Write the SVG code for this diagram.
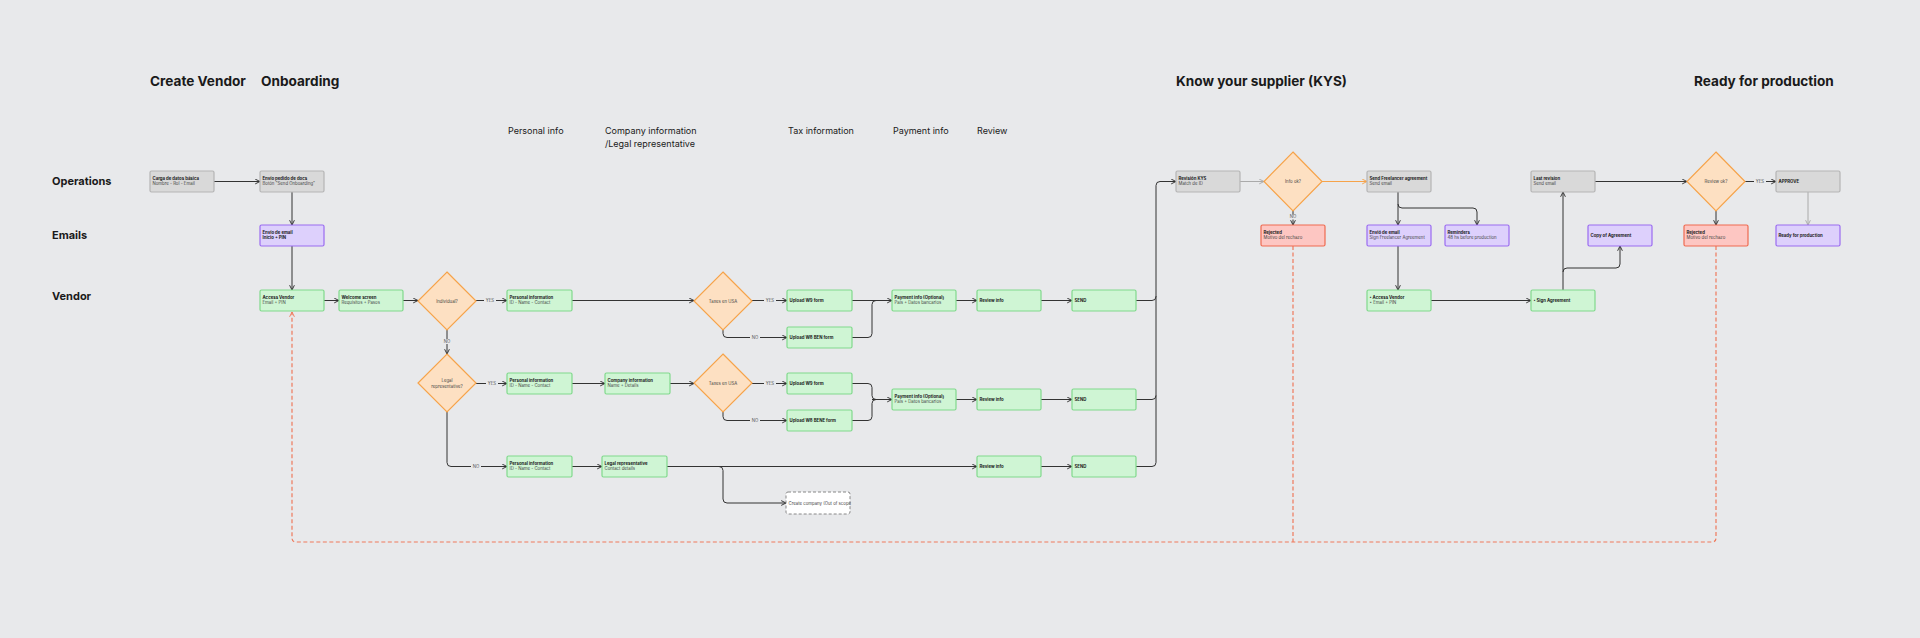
<svg xmlns="http://www.w3.org/2000/svg" width="1920" height="638" viewBox="0 0 1920 638">
<style>
text{font-family:Inter,"Liberation Sans",sans-serif;fill:#1a1a1a}
.h{font-size:13.6px;font-weight:700}
.lane{font-size:11px;font-weight:700}
.sec{font-size:9px}
.t{font-size:4.3px;font-weight:700}
.s{font-size:4.3px;fill:#444}
.c{font-size:4.3px;fill:#444;text-anchor:middle}
.lbl{font-size:4.3px;fill:#555;text-anchor:middle}
.gray{fill:#d9d9d9;stroke:#b5b5b5;stroke-width:1.2}
.pur{fill:#ddd0fc;stroke:#9a6cf0;stroke-width:1.2}
.grn{fill:#cff5d4;stroke:#80d98c;stroke-width:1.2}
.red{fill:#fdc6c2;stroke:#ef6b50;stroke-width:1.2}
.dia{fill:#fde0c2;stroke:#f6a34a;stroke-width:1.2}
.out{fill:#fff;stroke:#888;stroke-width:1;stroke-dasharray:3 2}
.k{fill:none;stroke:#333;stroke-width:1;marker-end:url(#a)}
.kn{fill:none;stroke:#333;stroke-width:1}
.g{fill:none;stroke:#aaa;stroke-width:1;marker-end:url(#ag)}
.o{fill:none;stroke:#f6a34a;stroke-width:1;marker-end:url(#ao)}
.d{fill:none;stroke:#ef7a5c;stroke-width:1.2;stroke-dasharray:4 2.5}
.dm{marker-end:url(#ad)}
</style>
<defs>
<marker id="a" viewBox="0 0 10 10" refX="9" refY="5" markerWidth="6" markerHeight="6" orient="auto" markerUnits="userSpaceOnUse"><path d="M1,1 L9,5 L1,9" fill="none" stroke="#333" stroke-width="1.6"/></marker>
<marker id="ag" viewBox="0 0 10 10" refX="9" refY="5" markerWidth="6" markerHeight="6" orient="auto" markerUnits="userSpaceOnUse"><path d="M1,1 L9,5 L1,9" fill="none" stroke="#aaa" stroke-width="1.6"/></marker>
<marker id="ao" viewBox="0 0 10 10" refX="9" refY="5" markerWidth="6" markerHeight="6" orient="auto" markerUnits="userSpaceOnUse"><path d="M1,1 L9,5 L1,9" fill="none" stroke="#f6a34a" stroke-width="1.6"/></marker>
<marker id="ad" viewBox="0 0 10 10" refX="9" refY="5" markerWidth="6" markerHeight="6" orient="auto" markerUnits="userSpaceOnUse"><path d="M1,1 L9,5 L1,9" fill="none" stroke="#ef7a5c" stroke-width="1.6"/></marker>
</defs>
<rect width="1920" height="638" fill="#e8e9eb"/>

<g id="headings">
<text class="h" x="150" y="86">Create Vendor</text>
<text class="h" x="261" y="86">Onboarding</text>
<text class="h" x="1176" y="86">Know your supplier (KYS)</text>
<text class="h" x="1694" y="86">Ready for production</text>
<text class="sec" x="508" y="134">Personal info</text>
<text class="sec" x="605" y="134">Company information</text>
<text class="sec" x="605" y="147">/Legal representative</text>
<text class="sec" x="788" y="134">Tax information</text>
<text class="sec" x="893" y="134">Payment info</text>
<text class="sec" x="977" y="134">Review</text>
<text class="lane" x="52" y="185">Operations</text>
<text class="lane" x="52" y="239">Emails</text>
<text class="lane" x="52" y="300">Vendor</text>
</g>

<g id="connectors">
<path class="k" d="M214,181.5 H260"/>
<path class="k" d="M292,192 V225"/>
<path class="k" d="M292,246 V290"/>
<path class="k" d="M324,300.5 H339"/>
<path class="k" d="M403,300.5 H418"/>
<path class="k" d="M476,300.5 H507"/>
<path class="k" d="M447,330 V354"/>
<path class="k" d="M572,300.5 H694"/>
<path class="k" d="M752,300.5 H787"/>
<path class="k" d="M723,330 V333.5 Q723,337.5 727,337.5 H787"/>
<path class="k" d="M852,300.5 H892"/>
<path class="kn" d="M852,337.5 H868 Q872,337.5 872,333.5 V304.5 Q872,300.5 876,300.5"/>
<path class="k" d="M956,300.5 H977"/>
<path class="k" d="M1041,300.5 H1072"/>
<path class="k" d="M1136,300.5 H1152 Q1156,300.5 1156,296.5 V185.5 Q1156,181.5 1160,181.5 H1176"/>
<path class="k" d="M476,383.5 H507"/>
<path class="k" d="M572,383.5 H605"/>
<path class="k" d="M670,383.5 H694"/>
<path class="k" d="M752,383.5 H787"/>
<path class="k" d="M723,412 V416.5 Q723,420.5 727,420.5 H787"/>
<path class="kn" d="M852,383.5 H868 Q872,383.5 872,387.5 V395.5 Q872,399.5 876,399.5"/>
<path class="kn" d="M852,420.5 H868 Q872,420.5 872,416.5 V403.5 Q872,399.5 876,399.5"/>
<path class="k" d="M872,399.5 H892"/>
<path class="k" d="M956,399.5 H977"/>
<path class="k" d="M1041,399.5 H1072"/>
<path class="kn" d="M1136,399.5 H1152 Q1156,399.5 1156,395.5"/>
<path class="k" d="M447,412 V462.5 Q447,466.5 451,466.5 H507"/>
<path class="k" d="M572,466.5 H602"/>
<path class="k" d="M667,466.5 H977"/>
<path class="k" d="M719,466.5 Q723,466.5 723,470.5 V499 Q723,503 727,503 H786"/>
<path class="k" d="M1041,466.5 H1072"/>
<path class="kn" d="M1136,466.5 H1152 Q1156,466.5 1156,462.5 V296"/>
<path class="g" d="M1240,181.5 H1264"/>
<path class="o" d="M1322,181.5 H1367"/>
<path class="k" d="M1293,210 V225"/>
<path class="k" d="M1398,192 V225"/>
<path class="k" d="M1398,204 Q1398,208 1402,208 H1473 Q1477,208 1477,212 V225"/>
<path class="k" d="M1398,246 V290"/>
<path class="k" d="M1430,300.5 H1531"/>
<path class="k" d="M1563,290 V192"/>
<path class="k" d="M1563,272 Q1563,268 1567,268 H1616 Q1620,268 1620,264 V246"/>
<path class="k" d="M1595,181.5 H1687"/>
<path class="k" d="M1745,181.5 H1776"/>
<path class="k" d="M1716,210 V225"/>
<path class="g" d="M1808,192 V225"/>
<path class="d" d="M1293,246 V542"/>
<path class="d dm" d="M1716,246 V538 Q1716,542 1712,542 H296 Q292,542 292,538 V312"/>
<g>
<rect x="484" y="298.5" width="12" height="5" fill="#e8e9eb"/><text class="lbl" x="490" y="302">YES</text>
<rect x="442" y="339" width="10" height="5" fill="#e8e9eb"/><text class="lbl" x="447" y="342.5">NO</text>
<rect x="764" y="298.5" width="12" height="5" fill="#e8e9eb"/><text class="lbl" x="770" y="302">YES</text>
<rect x="750" y="335.5" width="10" height="5" fill="#e8e9eb"/><text class="lbl" x="755" y="339">NO</text>
<rect x="486" y="381.5" width="12" height="5" fill="#e8e9eb"/><text class="lbl" x="492" y="385">YES</text>
<rect x="764" y="381.5" width="12" height="5" fill="#e8e9eb"/><text class="lbl" x="770" y="385">YES</text>
<rect x="750" y="418.5" width="10" height="5" fill="#e8e9eb"/><text class="lbl" x="755" y="422">NO</text>
<rect x="471" y="464.5" width="10" height="5" fill="#e8e9eb"/><text class="lbl" x="476" y="468">NO</text>
<rect x="1288" y="214.5" width="10" height="5" fill="#e8e9eb"/><text class="lbl" x="1293" y="218">NO</text>
<rect x="1754" y="179.5" width="12" height="5" fill="#e8e9eb"/><text class="lbl" x="1760" y="183">YES</text>
</g>
</g>

<g id="n-carga"><rect class="gray" x="150" y="171" width="64" height="21" rx="1.5"/><text class="t" x="152.5" y="179.5">Carga de datos básica</text><text class="s" x="152.5" y="185">Nombre - Rol - Email</text></g>
<g id="n-envio-docs"><rect class="gray" x="260" y="171" width="64" height="21" rx="1.5"/><text class="t" x="262.5" y="179.5">Envío pedido de docs</text><text class="s" x="262.5" y="185">Botón "Send Onboarding"</text></g>
<g id="n-email1"><rect class="pur" x="260" y="225" width="64" height="21" rx="1.5"/><text class="t" x="262.5" y="233.5">Envío de email</text><text class="t" x="262.5" y="239">Inicio + PIN</text></g>
<g id="n-access1"><rect class="grn" x="260" y="290" width="64" height="21" rx="1.5"/><text class="t" x="262.5" y="298.5">Access Vendor</text><text class="s" x="262.5" y="304">Email + PIN</text></g>
<g id="n-welcome"><rect class="grn" x="339" y="290" width="64" height="21" rx="1.5"/><text class="t" x="341.5" y="298.5">Welcome screen</text><text class="s" x="341.5" y="304">Requisitos + Pasos</text></g>
<g id="n-individual"><path class="dia" d="M447,272 L476,301 L447,330 L418,301 Z"/><text class="c" x="447" y="302.5">Individual?</text></g>
<g id="n-pi1"><rect class="grn" x="507" y="290" width="65" height="21" rx="1.5"/><text class="t" x="509.5" y="298.5">Personal information</text><text class="s" x="509.5" y="304">ID - Name - Contact</text></g>
<g id="n-tax1"><path class="dia" d="M723,272 L752,301 L723,330 L694,301 Z"/><text class="c" x="723" y="302.5">Taxes en USA</text></g>
<g id="n-w9a"><rect class="grn" x="787" y="290" width="65" height="21" rx="1.5"/><text class="t" x="789.5" y="302">Upload W9 form</text></g>
<g id="n-w8ben"><rect class="grn" x="787" y="327" width="65" height="21" rx="1.5"/><text class="t" x="789.5" y="339">Upload W8 BEN form</text></g>
<g id="n-pay1"><rect class="grn" x="892" y="290" width="64" height="21" rx="1.5"/><text class="t" x="894.5" y="298.5">Payment info (Optional)</text><text class="s" x="894.5" y="304">Pais + Datos bancarios</text></g>
<g id="n-rev1"><rect class="grn" x="977" y="290" width="64" height="21" rx="1.5"/><text class="t" x="979.5" y="302">Review info</text></g>
<g id="n-send1"><rect class="grn" x="1072" y="290" width="64" height="21" rx="1.5"/><text class="t" x="1074.5" y="302">SEND</text></g>
<g id="n-legal-q"><path class="dia" d="M447,354 L476,383 L447,412 L418,383 Z"/><text class="c" x="447" y="382">Legal</text><text class="c" x="447" y="387.5">representative?</text></g>
<g id="n-pi2"><rect class="grn" x="507" y="373" width="65" height="21" rx="1.5"/><text class="t" x="509.5" y="381.5">Personal information</text><text class="s" x="509.5" y="387">ID - Name - Contact</text></g>
<g id="n-company"><rect class="grn" x="605" y="373" width="65" height="21" rx="1.5"/><text class="t" x="607.5" y="381.5">Company information</text><text class="s" x="607.5" y="387">Name + Details</text></g>
<g id="n-tax2"><path class="dia" d="M723,354 L752,383 L723,412 L694,383 Z"/><text class="c" x="723" y="384.5">Taxes en USA</text></g>
<g id="n-w9b"><rect class="grn" x="787" y="373" width="65" height="21" rx="1.5"/><text class="t" x="789.5" y="385">Upload W9 form</text></g>
<g id="n-w8bene"><rect class="grn" x="787" y="410" width="65" height="21" rx="1.5"/><text class="t" x="789.5" y="422">Upload W8 BENE form</text></g>
<g id="n-pay2"><rect class="grn" x="892" y="389" width="64" height="21" rx="1.5"/><text class="t" x="894.5" y="397.5">Payment info (Optional)</text><text class="s" x="894.5" y="403">Pais + Datos bancarios</text></g>
<g id="n-rev2"><rect class="grn" x="977" y="389" width="64" height="21" rx="1.5"/><text class="t" x="979.5" y="401">Review info</text></g>
<g id="n-send2"><rect class="grn" x="1072" y="389" width="64" height="21" rx="1.5"/><text class="t" x="1074.5" y="401">SEND</text></g>
<g id="n-pi3"><rect class="grn" x="507" y="456" width="65" height="21" rx="1.5"/><text class="t" x="509.5" y="464.5">Personal information</text><text class="s" x="509.5" y="470">ID - Name - Contact</text></g>
<g id="n-legalrep"><rect class="grn" x="602" y="456" width="65" height="21" rx="1.5"/><text class="t" x="604.5" y="464.5">Legal representative</text><text class="s" x="604.5" y="470">Contact details</text></g>
<g id="n-create-company"><rect class="out" x="786" y="492" width="64" height="22" rx="2"/><text class="s" x="788.5" y="504.5">Create company (Out of scope</text></g>
<g id="n-rev3"><rect class="grn" x="977" y="456" width="64" height="21" rx="1.5"/><text class="t" x="979.5" y="468">Review info</text></g>
<g id="n-send3"><rect class="grn" x="1072" y="456" width="64" height="21" rx="1.5"/><text class="t" x="1074.5" y="468">SEND</text></g>
<g id="n-kys"><rect class="gray" x="1176" y="171" width="64" height="21" rx="1.5"/><text class="t" x="1178.5" y="179.5">Revisión KYS</text><text class="s" x="1178.5" y="185">Match de ID</text></g>
<g id="n-infook"><path class="dia" d="M1293,152 L1322,181.5 L1293,211 L1264,181.5 Z"/><text class="c" x="1293" y="183">Info ok?</text></g>
<g id="n-rejected1"><rect class="red" x="1261" y="225" width="64" height="21" rx="1.5"/><text class="t" x="1263.5" y="233.5">Rejected</text><text class="s" x="1263.5" y="239">Motivo del rechazo</text></g>
<g id="n-freelancer"><rect class="gray" x="1367" y="171" width="64" height="21" rx="1.5"/><text class="t" x="1369.5" y="179.5">Send Freelancer agreement</text><text class="s" x="1369.5" y="185">Send email</text></g>
<g id="n-email2"><rect class="pur" x="1367" y="225" width="64" height="21" rx="1.5"/><text class="t" x="1369.5" y="233.5">Envió de email</text><text class="s" x="1369.5" y="239">Sign Freelancer Agreement</text></g>
<g id="n-reminders"><rect class="pur" x="1445" y="225" width="64" height="21" rx="1.5"/><text class="t" x="1447.5" y="233.5">Reminders</text><text class="s" x="1447.5" y="239">48 hs before production</text></g>
<g id="n-access2"><rect class="grn" x="1367" y="290" width="64" height="21" rx="1.5"/><text class="t" x="1369.5" y="298.5">•  Access Vendor</text><text class="s" x="1369.5" y="304">•  Email + PIN</text></g>
<g id="n-sign"><rect class="grn" x="1531" y="290" width="64" height="21" rx="1.5"/><text class="t" x="1533.5" y="302">•  Sign Agreement</text></g>
<g id="n-copy"><rect class="pur" x="1588" y="225" width="64" height="21" rx="1.5"/><text class="t" x="1590.5" y="237">Copy of Agreement</text></g>
<g id="n-last"><rect class="gray" x="1531" y="171" width="64" height="21" rx="1.5"/><text class="t" x="1533.5" y="179.5">Last revision</text><text class="s" x="1533.5" y="185">Send email</text></g>
<g id="n-reviewok"><path class="dia" d="M1716,152 L1745,181.5 L1716,211 L1687,181.5 Z"/><text class="c" x="1716" y="183">Review ok?</text></g>
<g id="n-rejected2"><rect class="red" x="1684" y="225" width="64" height="21" rx="1.5"/><text class="t" x="1686.5" y="233.5">Rejected</text><text class="s" x="1686.5" y="239">Motivo del rechazo</text></g>
<g id="n-approve"><rect class="gray" x="1776" y="171" width="64" height="21" rx="1.5"/><text class="t" x="1778.5" y="183">APPROVE</text></g>
<g id="n-ready"><rect class="pur" x="1776" y="225" width="64" height="21" rx="1.5"/><text class="t" x="1778.5" y="237">Ready for production</text></g>
</svg>
